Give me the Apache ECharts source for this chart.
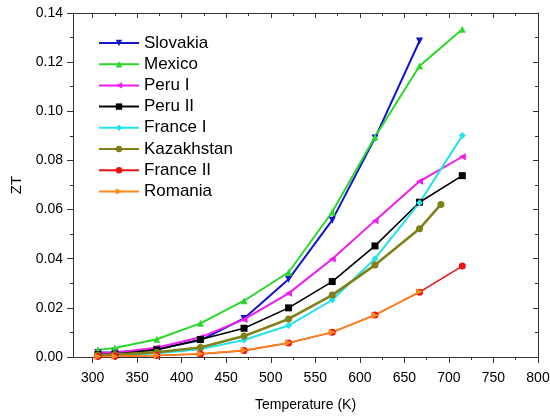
<!DOCTYPE html>
<html>
<head>
<meta charset="utf-8">
<script src="https://cdn.jsdelivr.net/npm/echarts@6/dist/echarts.min.js"></script>
<style>
  html, body { margin: 0; padding: 0; background: #fff; }
  #chart { width: 550px; height: 416px; }
</style>
</head>
<body>
<div id="chart"></div>
<script>
// Measurement temperatures (K)
const temps = [306, 325, 372, 421, 470, 520, 569, 617, 667, 715];
const tempsKazakhstan = [306, 325, 372, 421, 470, 520, 569, 617, 667, 691];

// ZT values per sample
const slovakia   = [0.0018, 0.0019, 0.0032, 0.0068, 0.0157, 0.0316, 0.0557, 0.0891, 0.1286];
const mexico     = [0.0029, 0.0037, 0.0072, 0.0137, 0.0229, 0.0345, 0.0590, 0.0895, 0.1184, 0.1334];
const peruI      = [0.0015, 0.0017, 0.0038, 0.0080, 0.0153, 0.0259, 0.0399, 0.0555, 0.0715, 0.0815];
const peruII     = [0.0010, 0.0012, 0.0029, 0.0071, 0.0117, 0.0200, 0.0307, 0.0452, 0.0630, 0.0738];
const franceI    = [0.0005, 0.0007, 0.0015, 0.0032, 0.0069, 0.0128, 0.0232, 0.0400, 0.0628, 0.0901];
const kazakhstan = [0.0008, 0.0010, 0.0019, 0.0039, 0.0085, 0.0155, 0.0252, 0.0374, 0.0522, 0.0621];
const franceII   = [0.0002, 0.0003, 0.0006, 0.0012, 0.0026, 0.0057, 0.0101, 0.0171, 0.0264, 0.0370];
const romania    = [0.0002, 0.0003, 0.0006, 0.0013, 0.0027, 0.0058, 0.0101, 0.0170, 0.0266];

// Axis ticks
const xMajorTicks = [300, 350, 400, 450, 500, 550, 600, 650, 700, 750, 800];
const xMinorTicks = [325, 375, 425, 475, 525, 575, 625, 675, 725, 775];

const FONT = 'Liberation Sans, Arial, Helvetica, sans-serif';
const AXIS_COLOR = '#333';

function pairs(xs, ys) {
  return ys.map((v, i) => [xs[i], v]);
}

function makeSeries(name, xs, ys, color, symbol, rotate, width) {
  return {
    name: name,
    type: 'line',
    data: pairs(xs, ys),
    xAxisIndex: 0,
    yAxisIndex: 0,
    symbol: symbol,
    symbolSize: 7,
    symbolRotate: rotate,
    showAllSymbol: true,
    lineStyle: { color: color, width: width },
    itemStyle: { color: color },
    emphasis: { disabled: true },
    animation: false
  };
}

const series = [
  makeSeries('Slovakia',   temps, slovakia,   '#1414cc', 'triangle', 180, 2),
  makeSeries('Mexico',     temps, mexico,     '#2ad82a', 'triangle', 0, 2),
  makeSeries('Peru I',     temps, peruI,      '#ee1cee', 'triangle', 90, 2),
  makeSeries('Peru II',    temps, peruII,     '#000000', 'rect', 0, 1.6),
  makeSeries('France I',   temps, franceI,    '#22e2ea', 'diamond', 0, 2),
  makeSeries('Kazakhstan', tempsKazakhstan, kazakhstan, '#808018', 'circle', 0, 2.6),
  makeSeries('France II',  temps, franceII,   '#ee1111', 'circle', 0, 1.6),
  makeSeries('Romania',    temps, romania,    '#ff8a1a', 'triangle', -90, 1.6)
];

const hiddenLabel = { show: false };
const baseX = {
  type: 'value', min: 278, max: 800,
  splitLine: { show: false }
};

const option = {
  backgroundColor: '#fff',
  animation: false,
  grid: { left: 73, right: 12, top: 13, bottom: 59, containLabel: false, outerBoundsMode: 'none' },
  legend: {
    orient: 'vertical',
    left: 98,
    top: 34.5,
    padding: 0,
    itemWidth: 40,
    itemHeight: 8,
    itemGap: 4.2,
    textStyle: { fontFamily: FONT, fontSize: 17, lineHeight: 17, color: '#000' },
    data: series.map(s => s.name)
  },
  xAxis: [
    Object.assign({}, baseX, {
      position: 'bottom',
      name: 'Temperature (K)',
      nameLocation: 'middle',
      nameGap: 41,
      nameTextStyle: { fontFamily: FONT, fontSize: 14, color: '#000' },
      axisLine: { show: true, onZero: false, lineStyle: { color: AXIS_COLOR, width: 1 } },
      axisTick: { show: true, inside: false, length: 6, customValues: xMajorTicks, lineStyle: { color: AXIS_COLOR } },
      axisLabel: { show: true, margin: 14, customValues: xMajorTicks, fontFamily: FONT, fontSize: 14, color: '#000' }
    }),
    Object.assign({}, baseX, {
      position: 'bottom',
      axisLine: { show: false, onZero: false },
      axisTick: { show: true, inside: false, length: 3, customValues: xMinorTicks, lineStyle: { color: AXIS_COLOR } },
      axisLabel: hiddenLabel
    }),
    Object.assign({}, baseX, {
      position: 'top',
      axisLine: { show: true, onZero: false, lineStyle: { color: AXIS_COLOR, width: 1 } },
      axisTick: { show: true, inside: true, length: 5, customValues: xMajorTicks, lineStyle: { color: AXIS_COLOR } },
      axisLabel: hiddenLabel
    }),
    Object.assign({}, baseX, {
      position: 'top',
      axisLine: { show: false, onZero: false },
      axisTick: { show: true, inside: true, length: 3, customValues: xMinorTicks, lineStyle: { color: AXIS_COLOR } },
      axisLabel: hiddenLabel
    })
  ],
  yAxis: [
    {
      type: 'value', min: 0, max: 0.14, interval: 0.02,
      position: 'left',
      name: 'ZT',
      nameLocation: 'middle',
      nameGap: 44,
      nameRotate: 90,
      nameTextStyle: { fontFamily: FONT, fontSize: 15, color: '#000' },
      splitLine: { show: false },
      axisLine: { show: true, onZero: false, lineStyle: { color: AXIS_COLOR, width: 1 } },
      axisTick: { show: true, inside: false, length: 6, lineStyle: { color: AXIS_COLOR } },
      minorTick: { show: true, splitNumber: 2, length: 3, lineStyle: { color: AXIS_COLOR } },
      minorSplitLine: { show: false },
      axisLabel: {
        margin: 10, fontFamily: FONT, fontSize: 14, color: '#000',
        formatter: v => v.toFixed(2)
      }
    },
    {
      type: 'value', min: 0, max: 0.14, interval: 0.02,
      position: 'right',
      splitLine: { show: false },
      axisLine: { show: true, onZero: false, lineStyle: { color: AXIS_COLOR, width: 1 } },
      axisTick: { show: true, inside: true, length: 5, lineStyle: { color: AXIS_COLOR } },
      minorTick: { show: true, splitNumber: 2, length: 3, lineStyle: { color: AXIS_COLOR } },
      axisLabel: hiddenLabel
    }
  ],
  series: series
};

const chart = echarts.init(document.getElementById('chart'), null, { renderer: 'canvas' });
chart.setOption(option);
</script>
</body>
</html>
